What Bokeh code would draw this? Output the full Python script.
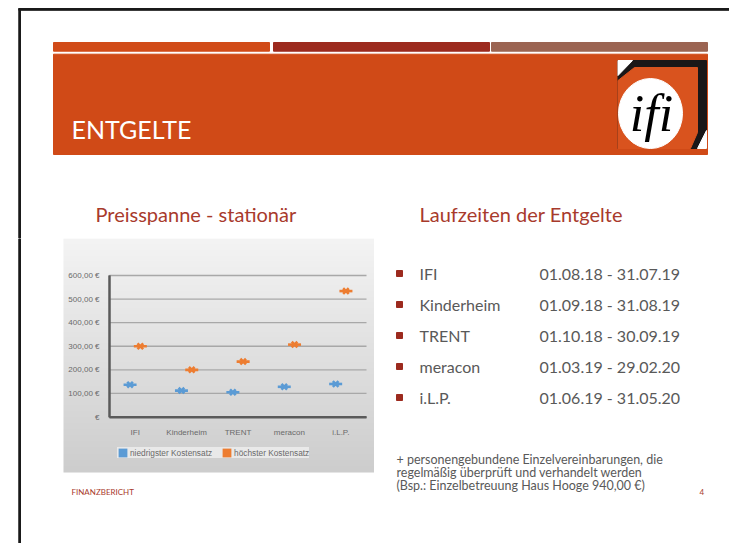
import numpy as np
from bokeh.plotting import figure
from bokeh.layouts import row, column
from bokeh.models import Range1d, FixedTicker, Legend, LegendItem, ColumnDataSource
from bokeh.transform import dodge
from bokeh.embed import file_html
from bokeh.resources import INLINE
from bokeh.core.properties import value

# ---------------- data ----------------
categories = ["IFI", "Kinderheim", "TRENT", "meracon", "i.L.P."]
niedrigster = [137, 112, 105, 128, 140]
hoechster = [300, 200, 235, 307, 534]
series_names = ["niedrigster Kostensatz", "höchster Kostensatz"]
y_ticks = [0, 100, 200, 300, 400, 500, 600]
y_tick_labels = ["€", "100,00 €", "200,00 €", "300,00 €", "400,00 €", "500,00 €", "600,00 €"]

slide_title = "ENTGELTE"
chart_title = "Preisspanne - stationär"
list_title = "Laufzeiten der Entgelte"
laufzeit_names = ["IFI", "Kinderheim", "TRENT", "meracon", "i.L.P."]
laufzeit_dates = ["01.08.18 - 31.07.19", "01.09.18 - 31.08.19", "01.10.18 - 30.09.19",
                  "01.03.19 - 29.02.20", "01.06.19 - 31.05.20"]
footnote_lines = ["+ personengebundene Einzelvereinbarungen, die",
                  "regelmäßig überprüft und verhandelt werden",
                  "(Bsp.: Einzelbetreuung Haus Hooge 940,00 €)"]
footer_left = "FINANZBERICHT"
footer_page = "4"

BLUE = "#5B9BD5"
ORANGE = "#ED7D31"
RED_TXT = "#A83A2C"
GRAY_TXT = "#595959"
AXIS_C = "#5a5a5a"
BORDER_C = "#1a1a1a"
FONT = value("Lato")
NAN = float("nan")


def blank(w, h, x0, x1, y0, y1):
    f = figure(width=w, height=h, x_range=Range1d(x0, x1), y_range=Range1d(y1, y0),
               x_axis_location=None, y_axis_location=None, toolbar_location=None,
               output_backend="svg", min_border=0, outline_line_color=None,
               background_fill_color="white", border_fill_color="white")
    f.grid.visible = False
    return f


# ---------------- top (header) ----------------
top = blank(729, 238, 0, 729, 0, 238)
top.quad(left=[18.3], right=[729], top=[8], bottom=[9.8], color=BORDER_C)
top.quad(left=[18.3], right=[20], top=[8], bottom=[238], color=BORDER_C)
top.quad(left=[53, 273, 491], right=[269, 489, 707], top=[42, 42, 42], bottom=[50.7, 50.7, 50.7],
         color=["#D14B18", "#9C2A1E", "#9B6452"])
top.quad(left=[53], right=[707], top=[53.7], bottom=[154], color="#D04A17")
top.text(x=[71], y=[128], text=[slide_title], text_font=FONT, text_font_size="25px",
         text_color="white", text_baseline="middle")
# logo
top.quad(left=[617.5], right=[706], top=[60], bottom=[148], color="#1a1718")
top.patch(x=[617.5, 632, 617.5], y=[60, 60, 75], color="white")
top.patch(x=[617.5, 634, 697, 697, 690, 617.5], y=[80, 67, 67, 132, 148, 148], color="#D9531E")
top.patch(x=[697, 706, 706], y=[148, 130, 148], color="white")
top.ellipse(x=[650], y=[113], width=[64], height=[70], color="white")
top.text(x=[651], y=[113], text=["ifi"], text_font=value("Liberation Serif"),
         text_font_style="italic", text_font_size="52px", text_color="black",
         text_align="center", text_baseline="middle")
top.text(x=[95, 419], y=[213, 213], text=[chart_title, list_title], text_font=FONT,
         text_font_size="20px", text_color=RED_TXT, text_baseline="middle")

# ---------------- lower left: chart in one figure whose frame is the whole panel ----------------
# layout geometry (page pixels) -> data coordinates of this panel
AX_LEFT, BAND = 109.0, 51.4          # page x of the y axis, width of one category band
ZERO_Y, PX_PER_UNIT = 416.5, 141.5 / 600.0


def px2x(px):
    return (px - AX_LEFT) / BAND - 0.5


def py2y(py):
    return (ZERO_Y - py) / PX_PER_UNIT


n = len(categories)
L = figure(width=374, height=305, x_range=Range1d(px2x(0), px2x(374)),
           y_range=Range1d(py2y(543), py2y(238)), toolbar_location=None, output_backend="svg",
           min_border=0, outline_line_color=None, background_fill_color="white",
           border_fill_color="white")
L.grid.visible = False

# slide border line
L.quad(left=[px2x(18.3)], right=[px2x(20)], top=[py2y(238)], bottom=[py2y(543)], color=BORDER_C)

# chart background gradient (page x 63..374, y 238..472)
H = 234
t = 1.0 - (np.arange(H) + 0.5) / H          # row 0 is the bottom row
shade = np.interp(t, [0.0, 0.45, 1.0], [244, 226, 205]).astype(np.uint8)
img = np.zeros((H, 1), dtype=np.uint32)
view = img.view(dtype=np.uint8).reshape((H, 1, 4))
view[:, 0, 0] = shade
view[:, 0, 1] = shade
view[:, 0, 2] = shade
view[:, 0, 3] = 255
L.image_rgba(image=[img], x=px2x(63), y=py2y(472), dw=px2x(374) - px2x(63),
             dh=py2y(238) - py2y(472))

# gridlines and baseline across the category span
grid_vals = [v for v in y_ticks if v != 0]
L.segment(x0=[-0.5] * len(grid_vals), x1=[n - 0.5] * len(grid_vals), y0=grid_vals, y1=grid_vals,
          line_color="#a8a8a8", line_width=1.3)
L.segment(x0=[-0.5], x1=[n - 0.5], y0=[0], y1=[0], line_color=AXIS_C, line_width=2)
L.segment(x0=[-0.5], x1=[-0.5], y0=[0], y1=[max(y_ticks)], line_color=AXIS_C, line_width=2)

# axes placed inside the frame
L.xaxis.fixed_location = 0
L.xaxis.ticker = FixedTicker(ticks=list(range(n)))
L.xaxis.major_label_overrides = {i: c for i, c in enumerate(categories)}
L.xaxis.bounds = (-0.5, n - 0.5)
L.yaxis.fixed_location = -0.5
L.yaxis.ticker = FixedTicker(ticks=y_ticks)
L.yaxis.major_label_overrides = {tk: lb for tk, lb in zip(y_ticks, y_tick_labels)}
L.yaxis.bounds = (0, max(y_ticks))
for ax in (L.xaxis[0], L.yaxis[0]):
    ax.axis_line_color = AXIS_C
    ax.axis_line_width = 2
    ax.major_tick_line_color = None
    ax.minor_tick_line_color = None
    ax.major_label_text_font_size = "8px"
    ax.major_label_text_color = "#6a6a6a"
    ax.major_label_text_font = "Liberation Sans"
L.yaxis.major_label_standoff = 4
L.xaxis.major_label_standoff = 5

src = ColumnDataSource(dict(idx=list(range(n)), lo=niedrigster, hi=hoechster))
for col, color, off in (("lo", BLUE, -0.1), ("hi", ORANGE, 0.1)):
    xs = dodge("idx", off)
    L.scatter(x=xs, y=col, source=src, marker="x", size=8, line_color=color, line_width=2.6)
    L.scatter(x=xs, y=col, source=src, marker="dash", size=13, line_color=color, line_width=2.6)

# legend swatches: renderers with no drawable point, only used for the legend
leg_src = ColumnDataSource(dict(l=[NAN], r=[NAN], t=[NAN], b=[NAN]))
r1 = L.quad(left="l", right="r", top="t", bottom="b", source=leg_src, fill_color=BLUE, line_color=None)
r2 = L.quad(left="l", right="r", top="t", bottom="b", source=leg_src, fill_color=ORANGE, line_color=None)
legend = Legend(items=[LegendItem(label=series_names[0], renderers=[r1]),
                       LegendItem(label=series_names[1], renderers=[r2])],
                orientation="horizontal", location=(117, 85), background_fill_color="#e9e9e9",
                background_fill_alpha=1, border_line_color=None, label_text_font_size="8.3px",
                label_text_color="#6a6a6a", label_text_font="Liberation Sans",
                glyph_width=11, glyph_height=11, padding=7, spacing=9, margin=0,
                label_standoff=2, label_height=11)
L.add_layout(legend, "center")

L.text(x=[px2x(71)], y=[py2y(491)], text=[footer_left], text_font=FONT, text_font_size="8px",
       text_color=RED_TXT, text_baseline="middle")

# ---------------- right ----------------
rt = blank(355, 305, 374, 729, 238, 543)
row_y = [273 + 31 * i for i in range(len(laufzeit_names))]
rt.scatter(x=[399] * len(row_y), y=row_y, marker="square", size=6, color="#9C2A1E")
rt.text(x=[419] * len(row_y), y=row_y, text=laufzeit_names, text_font=FONT, text_font_size="16px",
        text_color=GRAY_TXT, text_baseline="middle")
rt.text(x=[539] * len(row_y), y=row_y, text=laufzeit_dates, text_font=FONT, text_font_size="16px",
        text_color=GRAY_TXT, text_baseline="middle")
rt.text(x=[396] * 3, y=[459, 472, 485], text=footnote_lines, text_font=FONT, text_font_size="12.5px",
        text_color=GRAY_TXT, text_baseline="middle")
rt.text(x=[699], y=[491], text=[footer_page], text_font=FONT, text_font_size="8px",
        text_color=RED_TXT, text_baseline="middle")

layout = column(top, row(L, rt))
open("out.html", "w").write(file_html(layout, INLINE))
